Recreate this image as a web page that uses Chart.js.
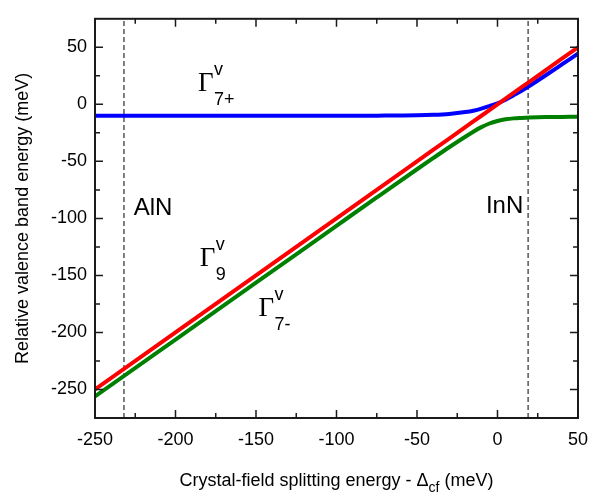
<!DOCTYPE html>
<html>
<head>
<meta charset="utf-8">
<script src="https://cdn.jsdelivr.net/npm/chart.js@4.4.0/dist/chart.umd.min.js"></script>
<style>
  html, body { margin: 0; padding: 0; background: #fff; }
  #wrap { width: 599px; height: 495px; }
</style>
</head>
<body>
<div id="wrap"><canvas id="chart" width="599" height="495"></canvas></div>
<script>
// crystal-field splitting energy (meV)
const energies = [-250, -200, -150, -100, -75, -50, -40, -30, -20, -15, -10, -5, 0, 5, 10, 15, 20, 30, 40, 50];
// relative valence band energies (meV)
const gamma9 = [-250, -200, -150, -100, -75, -50, -40, -30, -20, -15, -10, -5, 0, 5, 10, 15, 20, 30, 40, 50];
const gamma7plus = [-10, -10, -10, -10, -9.9, -9.6, -9.2, -8.4, -6.8, -5.6, -3.8, -1.5, 0.8, 4, 8, 12, 16.3, 25.5, 35, 44.5];
const gamma7minus = [-256, -206.2, -156.4, -106.5, -81.6, -56.9, -47.2, -37.6, -28.4, -24, -20, -16.8, -14.6, -13.1, -12.3, -11.9, -11.6, -11.2, -11, -10.8];

const xMajor = [-250, -200, -150, -100, -50, 0, 50];
const xMinor = [-225, -175, -125, -75, -25, 25];
const yMajor = [-250, -200, -150, -100, -50, 0, 50];
const yMinor = [-225, -175, -125, -75, -25, 25];

const alnSplit = -232;
const innSplit = 19;

const pts = ys => energies.map((x, i) => ({ x: x, y: ys[i] }));
const vline = x => [{ x: x, y: -275 }, { x: x, y: 75 }];

const SANS = '"Liberation Sans", Arial, sans-serif';
const SERIF = '"Liberation Serif", "Times New Roman", serif';

function gammaLabel(ctx, px, py, sub) {
  ctx.font = '27px ' + SERIF;
  ctx.fillText('\u0393', px, py);
  ctx.font = '18px ' + SANS;
  ctx.fillText('v', px + 16, py - 16);
  ctx.fillText(sub, px + 16, py + 14);
}

const decor = {
  id: 'decor',
  afterDatasetsDraw(chart) {
    const { ctx, chartArea: a, scales: { x, y } } = chart;
    ctx.save();
    ctx.strokeStyle = '#1a1a1a';
    ctx.lineWidth = 1.5;
    ctx.beginPath();
    const tick = (vals, len) => {
      vals.forEach(v => {
        const px = x.getPixelForValue(v);
        ctx.moveTo(px, a.bottom); ctx.lineTo(px, a.bottom - len);
        ctx.moveTo(px, a.top); ctx.lineTo(px, a.top + len);
      });
    };
    const ytick = (vals, len) => {
      vals.forEach(v => {
        const py = y.getPixelForValue(v);
        ctx.moveTo(a.left, py); ctx.lineTo(a.left + len, py);
        ctx.moveTo(a.right, py); ctx.lineTo(a.right - len, py);
      });
    };
    tick(xMajor, 8); tick(xMinor, 5);
    ytick(yMajor, 8); ytick(yMinor, 5);
    ctx.stroke();
    ctx.lineWidth = 2;
    ctx.strokeRect(a.left, a.top, a.width, a.height);

    // text labels
    ctx.fillStyle = '#000';
    ctx.textBaseline = 'alphabetic';
    ctx.textAlign = 'left';
    ctx.font = '24px ' + SANS;
    ctx.fillText('AlN', x.getPixelForValue(-226), y.getPixelForValue(-97));
    ctx.textAlign = 'right';
    ctx.fillText('InN', x.getPixelForValue(16), y.getPixelForValue(-95));
    ctx.textAlign = 'left';
    gammaLabel(ctx, x.getPixelForValue(-186), y.getPixelForValue(12), '7+');
    gammaLabel(ctx, x.getPixelForValue(-185), y.getPixelForValue(-142), '9');
    gammaLabel(ctx, x.getPixelForValue(-148.5), y.getPixelForValue(-185.5), '7-');

    // x axis title with subscript
    const p1 = 'Crystal-field splitting energy - \u0394';
    const p2 = 'cf';
    const p3 = ' (meV)';
    ctx.font = '18px ' + SANS;
    const w1 = ctx.measureText(p1).width;
    const w3 = ctx.measureText(p3).width;
    ctx.font = '14px ' + SANS;
    const w2 = ctx.measureText(p2).width;
    const cx = (a.left + a.right) / 2;
    let sx = cx - (w1 + w2 + w3) / 2;
    const base = 486;
    ctx.font = '18px ' + SANS;
    ctx.fillText(p1, sx, base);
    ctx.font = '14px ' + SANS;
    ctx.fillText(p2, sx + w1, base + 6);
    ctx.font = '18px ' + SANS;
    ctx.fillText(p3, sx + w1 + w2, base);

    // y axis title
    ctx.translate(28, (a.top + a.bottom) / 2);
    ctx.rotate(-Math.PI / 2);
    ctx.textAlign = 'center';
    ctx.fillText('Relative valence band energy (meV)', 0, 0);
    ctx.restore();
  }
};

const dashed = {
  borderColor: '#000',
  borderWidth: 1,
  borderDash: [5, 3],
  pointRadius: 0
};

new Chart(document.getElementById('chart').getContext('2d'), {
  type: 'line',
  data: {
    datasets: [
      { label: 'Gamma9', data: pts(gamma9), borderColor: '#ff0000', borderWidth: 4, pointRadius: 0 },
      { label: 'Gamma7+', data: pts(gamma7plus), borderColor: '#0000ff', borderWidth: 4, pointRadius: 0, cubicInterpolationMode: 'monotone' },
      { label: 'Gamma7-', data: pts(gamma7minus), borderColor: '#008000', borderWidth: 4, pointRadius: 0, cubicInterpolationMode: 'monotone' },
      Object.assign({ label: 'AlN', data: vline(alnSplit) }, dashed),
      Object.assign({ label: 'InN', data: vline(innSplit) }, dashed)
    ]
  },
  options: {
    responsive: false,
    animation: false,
    layout: { padding: { top: 8, right: 11, left: 0, bottom: 0 } },
    plugins: { legend: { display: false }, tooltip: { enabled: false } },
    scales: {
      x: {
        type: 'linear',
        min: -250, max: 50,
        grid: { display: false, drawTicks: false },
        border: { display: false },
        afterBuildTicks: s => { s.ticks = xMajor.map(v => ({ value: v })); },
        afterFit: s => { s.height = 77; },
        ticks: { color: '#000', padding: 11, font: { family: SANS, size: 18 } }
      },
      y: {
        min: -275, max: 75,
        grid: { display: false, drawTicks: false },
        border: { display: false },
        afterBuildTicks: s => { s.ticks = yMajor.map(v => ({ value: v })); },
        afterFit: s => { s.width = 95; },
        ticks: { color: '#000', padding: 8, font: { family: SANS, size: 18 } }
      }
    }
  },
  plugins: [decor]
});
</script>
</body>
</html>
